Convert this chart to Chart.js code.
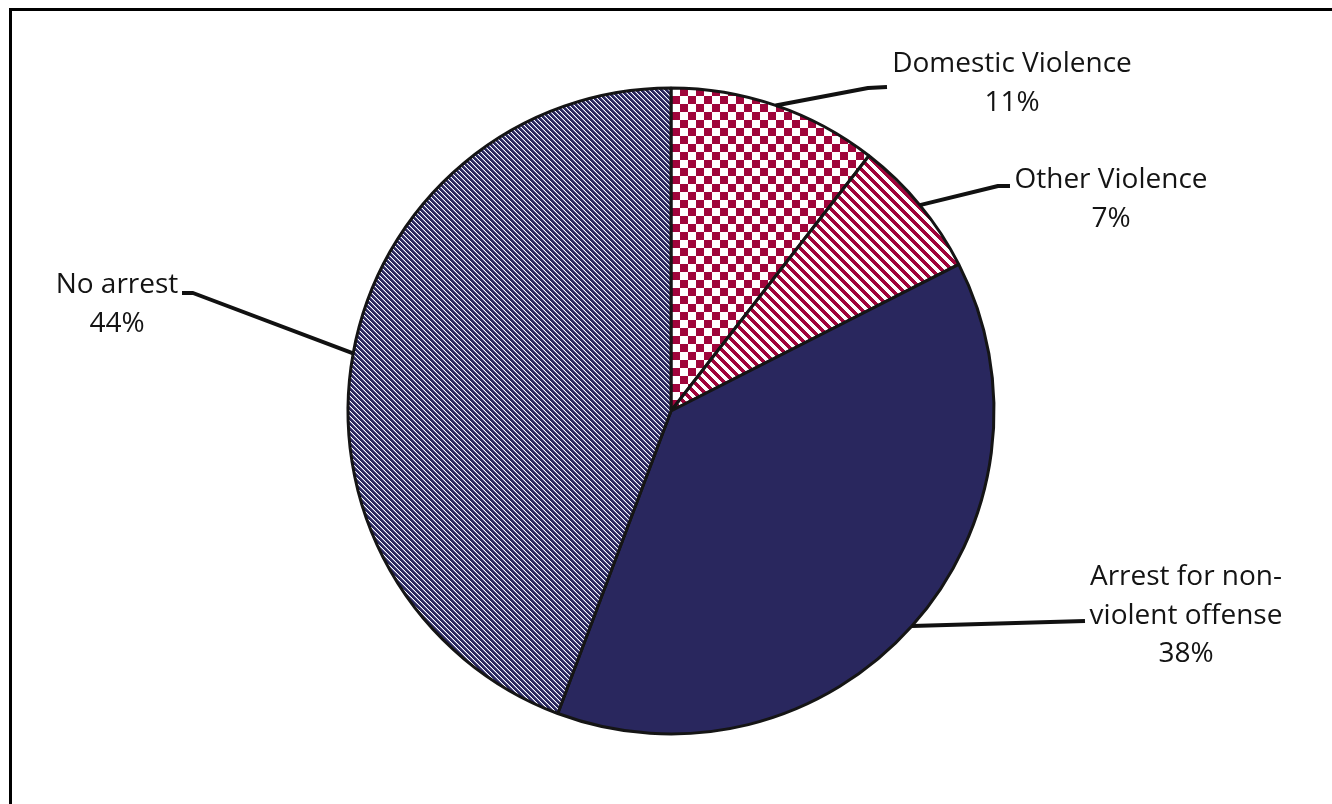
<!DOCTYPE html>
<html>
<head>
<meta charset="utf-8">
<script src="https://cdn.jsdelivr.net/npm/chart.js@4.4.1/dist/chart.umd.min.js"></script>
<style>
  html, body { margin: 0; padding: 0; background: #fff; }
  #arrest-chart { display: block; }
</style>
</head>
<body>
<canvas id="arrest-chart" width="1332" height="804"></canvas>
<script>
// ====
// Data
// ====
const categories = ['Domestic Violence', 'Other Violence', 'Arrest for non-violent offense', 'No arrest'];
const shares = [10.5, 7.0, 38.2, 44.3];
const labelLines = [
  ['Domestic Violence'],
  ['Other Violence'],
  ['Arrest for non-', 'violent offense'],
  ['No arrest'],
];

//  Colours
//  -------
const crimson = '#a0053b';
const navy = '#29275e';

//  Label placement (text centre x, first baseline y, leader elbow + end)
//  ------------------------------------------------------------------
const labelLayout = [
  {x: 1012, y: 72, elbow: [868, 88], end: [887, 87]},
  {x: 1111, y: 188, elbow: [998, 186], end: [1010, 186]},
  {x: 1186, y: 585, elbow: [1085, 621], end: [1085, 621]},
  {x: 117, y: 293, elbow: [193, 293], end: [182, 293]},
];


// ========
// Patterns
// ========
//  build a small tile pixel by pixel so the pattern stays crisp
const makePattern = (size, paint) => {
  const tile = document.createElement('canvas');
  tile.width = size;
  tile.height = size;
  const tctx = tile.getContext('2d');
  tctx.fillStyle = '#fff';
  tctx.fillRect(0, 0, size, size);
  for (let y = 0; y < size; y++) {
    for (let x = 0; x < size; x++) {
      const c = paint(x, y);
      if (c) {
        tctx.fillStyle = c;
        tctx.fillRect(x, y, 1, 1);
      }
    }
  }
  return tctx.createPattern(tile, 'repeat');
};

const diag = (x, y, size) => ((x - y) % size + size) % size;

const checkerFill = makePattern(16, (x, y) => (((x >> 3) + (y >> 3)) % 2 === 0 ? crimson : null));
const wideStripeFill = makePattern(10, (x, y) => (diag(x, y, 10) < 5 ? crimson : null));
const fineStripeFill = makePattern(5, (x, y) => {
  const d = diag(x, y, 5);
  if (d < 3) return navy;
  if (d === 3) return '#7472a0';
  return null;
});


// =======
// Plugins
// =======
const framePlugin = {
  id: 'frame',
  beforeDraw(chart) {
    const ctx = chart.ctx;
    ctx.save();
    ctx.fillStyle = '#000';
    ctx.fillRect(9, 8, 3, chart.height);
    ctx.fillRect(9, 8, chart.width, 3);
    ctx.restore();
  },
};

const leaderLabels = {
  id: 'leaderLabels',
  afterDraw(chart) {
    const ctx = chart.ctx;
    const arcs = chart.getDatasetMeta(0).data;
    ctx.save();
    arcs.forEach((arc, i) => {
      const lay = labelLayout[i];
      const mid = (arc.startAngle + arc.endAngle) / 2;
      const sx = arc.x + Math.cos(mid) * arc.outerRadius;
      const sy = arc.y + Math.sin(mid) * arc.outerRadius;

      // leader line
      ctx.strokeStyle = '#111';
      ctx.lineWidth = 4;
      ctx.lineJoin = 'round';
      ctx.beginPath();
      ctx.moveTo(sx, sy);
      ctx.lineTo(lay.elbow[0], lay.elbow[1]);
      ctx.lineTo(lay.end[0], lay.end[1]);
      ctx.stroke();

      // text
      const lines = labelLines[i].concat([Math.round(shares[i]) + '%']);
      ctx.fillStyle = '#141414';
      ctx.font = '28px "Open Sans", sans-serif';
      ctx.textAlign = 'center';
      ctx.textBaseline = 'alphabetic';
      lines.forEach((line, j) => {
        ctx.fillText(line, lay.x, lay.y + j * 38.5);
      });
    });
    ctx.restore();
  },
};


// =====
// Chart
// =====
const pieCanvas = document.getElementById('arrest-chart');

const pieData = {
  labels: categories,
  datasets: [
    {
      data: shares,
      backgroundColor: [checkerFill, wideStripeFill, navy, fineStripeFill],
      borderColor: '#151515',
      borderWidth: 3,
    },
  ],
};

const pieOptions = {
  responsive: false,
  animation: false,
  radius: 323,
  layout: {
    padding: {left: 20, right: 10, top: 28, bottom: 10},
  },
  plugins: {
    legend: {display: false},
    tooltip: {enabled: false},
  },
};

let pieChart = new Chart(pieCanvas, {
  type: 'pie',
  data: pieData,
  options: pieOptions,
  plugins: [framePlugin, leaderLabels],
});
</script>
</body>
</html>
